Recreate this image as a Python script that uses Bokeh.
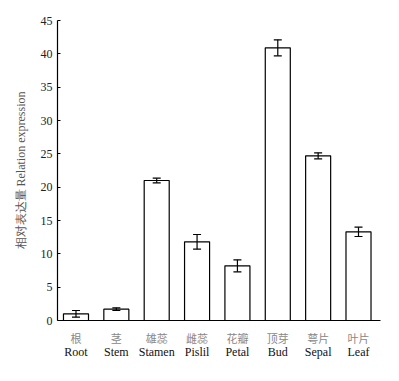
from bokeh.plotting import figure
from bokeh.models import Range1d, LinearAxis, FixedTicker, Whisker, ColumnDataSource
from bokeh.embed import file_html
from bokeh.resources import INLINE

cn_labels = ["根", "茎", "雄蕊", "雌蕊", "花瓣", "顶芽", "萼片", "叶片"]
en_labels = ["Root", "Stem", "Stamen", "Pislil", "Petal", "Bud", "Sepal", "Leaf"]
values = [1.0, 1.7, 21.0, 11.8, 8.2, 40.9, 24.7, 13.3]
errors = [0.5, 0.2, 0.35, 1.1, 0.9, 1.2, 0.45, 0.7]
y_ticks = [0, 5, 10, 15, 20, 25, 30, 35, 40, 45]

pos = list(range(len(values)))
src = ColumnDataSource(dict(
    x=pos, top=values,
    upper=[v + e for v, e in zip(values, errors)],
    lower=[v - e for v, e in zip(values, errors)],
))

SERIF = "Liberation Serif"

p = figure(width=390, height=372, output_backend="svg", toolbar_location=None,
           x_range=Range1d(-0.458, 7.545), y_range=Range1d(0, 45),
           x_axis_type=None, min_border_left=57, min_border_right=10,
           min_border_top=20, min_border_bottom=52)
p.outline_line_color = None
p.xgrid.visible = False
p.ygrid.visible = False

p.vbar(x="x", top="top", bottom=0, width=0.62, source=src,
       fill_color="white", line_color="black", line_width=1.2)
w = Whisker(base="x", upper="upper", lower="lower", source=src,
            line_color="black", line_width=1.2, level="overlay")
w.upper_head.size = 8
w.lower_head.size = 8
w.upper_head.line_width = 1.2
w.lower_head.line_width = 1.2
p.add_layout(w)

ya = p.yaxis[0]
ya.ticker = FixedTicker(ticks=y_ticks)
ya.major_tick_in = 3
ya.major_tick_out = 0
ya.minor_tick_line_color = None
ya.axis_line_width = 1.2
ya.major_tick_line_width = 1.2
ya.major_label_text_font = SERIF
ya.major_label_text_font_size = "12px"
ya.major_label_text_color = "#222222"
ya.major_label_standoff = 5
ya.axis_label = "相对表达量 Relation expression"
ya.axis_label_text_font = SERIF
ya.axis_label_text_font_style = "normal"
ya.axis_label_text_font_size = "12px"
ya.axis_label_text_color = "#555555"
ya.axis_label_standoff = 10

ax_cn = LinearAxis(ticker=FixedTicker(ticks=pos),
                   major_label_overrides={i: t for i, t in enumerate(cn_labels)})
ax_cn.axis_line_width = 1.2
ax_cn.major_tick_line_color = None
ax_cn.minor_tick_line_color = None
ax_cn.major_tick_out = 0
ax_cn.major_tick_in = 0
ax_cn.major_label_text_font = "Noto Sans CJK SC"
ax_cn.major_label_text_font_size = "11px"
ax_cn.major_label_text_color = "#888888"
ax_cn.major_label_standoff = 9
p.add_layout(ax_cn, "below")

ax_en = LinearAxis(ticker=FixedTicker(ticks=pos),
                   major_label_overrides={i: t for i, t in enumerate(en_labels)})
ax_en.axis_line_color = None
ax_en.major_tick_line_color = None
ax_en.minor_tick_line_color = None
ax_en.major_tick_out = 0
ax_en.major_tick_in = 0
ax_en.major_label_text_font = SERIF
ax_en.major_label_text_font_size = "12px"
ax_en.major_label_text_color = "#111111"
ax_en.major_label_standoff = -4
p.add_layout(ax_en, "below")

open("out.html", "w").write(file_html(p, INLINE))
